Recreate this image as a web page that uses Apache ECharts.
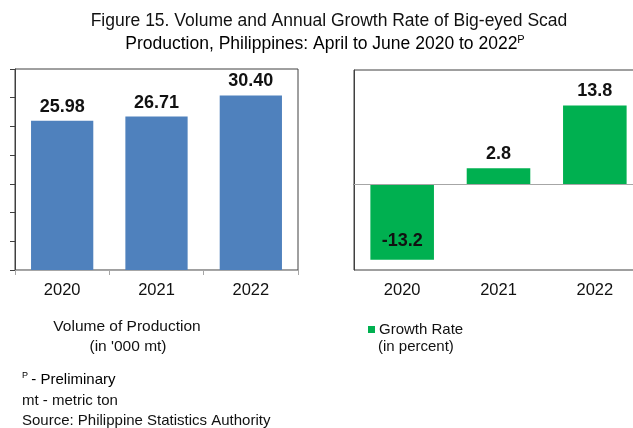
<!DOCTYPE html>
<html>
<head>
<meta charset="utf-8">
<script src="https://cdn.jsdelivr.net/npm/echarts@6/dist/echarts.min.js"></script>
<style>
html,body{margin:0;padding:0;background:#fff;overflow:hidden;width:633px;height:428px;}
#c{width:660px;height:428px;}
</style>
</head>
<body>
<div id="c"></div>
<script>
var years = ['2020', '2021', '2022'];
var volume = [25.98, 26.71, 30.40];
var growth = [-13.2, 2.8, 13.8];
var volumeLabels = ['25.98', '26.71', '30.40'];
var growthLabels = ['-13.2', '2.8', '13.8'];

var FONT = '"Liberation Sans", Arial, sans-serif';
var TXT = '#111';

var chart = echarts.init(document.getElementById('c'), null, {renderer: 'canvas'});

var growthData = growth.map(function (v, i) {
  if (v < 0) {
    return {value: v, label: {position: 'insideBottom', distance: 10}};
  }
  return v;
});

var option = {
  animation: false,
  textStyle: {fontFamily: FONT},
  grid: [
    {left: 15, top: 69, width: 283, height: 201, show: true, borderColor: '#404040', borderWidth: 1, containLabel: false},
    {left: 354, top: 70, width: 289, height: 200, show: true, borderColor: '#404040', borderWidth: 1, containLabel: false}
  ],
  xAxis: [
    {type: 'category', gridIndex: 0, data: years,
      axisLine: {show: true, lineStyle: {color: '#a6a6a6'}},
      axisTick: {show: true, length: 5, alignWithLabel: false, lineStyle: {color: '#a6a6a6'}},
      axisLabel: {fontSize: 16.5, color: TXT, margin: 12, fontFamily: FONT}},
    {type: 'category', gridIndex: 1, data: years,
      axisLine: {show: true, lineStyle: {color: '#404040'}},
      axisTick: {show: false},
      axisLabel: {fontSize: 16.5, color: TXT, margin: 12, fontFamily: FONT}}
  ],
  yAxis: [
    {type: 'value', gridIndex: 0, min: 0, max: 35, interval: 5,
      axisLine: {show: true, lineStyle: {color: '#404040'}},
      axisTick: {show: true, inside: false, length: 5, lineStyle: {color: '#404040'}},
      axisLabel: {show: false}, splitLine: {show: false}},
    {type: 'value', gridIndex: 1, min: -15, max: 20, interval: 5,
      axisLine: {show: true, lineStyle: {color: '#404040'}},
      axisTick: {show: false},
      axisLabel: {show: false}, splitLine: {show: false}}
  ],
  legend: {
    data: ['Growth Rate'], left: 363, top: 317, icon: 'rect', itemWidth: 7, itemHeight: 7, itemGap: 4,
    textStyle: {fontSize: 15, color: TXT, fontFamily: FONT, padding: [0, 0, 0, -1]}
  },
  series: [
    {name: 'Volume', type: 'bar', xAxisIndex: 0, yAxisIndex: 0, data: volume, barWidth: '66%',
      itemStyle: {color: '#4F81BD'},
      label: {show: true, position: 'top', distance: 5, fontSize: 18, fontWeight: 'bold', color: TXT, fontFamily: FONT,
        formatter: function (p) { return volumeLabels[p.dataIndex]; }}},
    {name: 'Growth Rate', type: 'bar', xAxisIndex: 1, yAxisIndex: 1, data: growthData, barWidth: '66%',
      itemStyle: {color: '#00B050'},
      label: {show: true, position: 'top', distance: 5, fontSize: 18, fontWeight: 'bold', color: TXT, fontFamily: FONT,
        formatter: function (p) { return growthLabels[p.dataIndex]; }},
      markLine: {silent: true, symbol: 'none', label: {show: false},
        lineStyle: {color: '#a6a6a6', type: 'solid', width: 1},
        data: [{yAxis: 0}]}}
  ],
  graphic: [
    {type: 'text', x: 329, y: 21, style: {text: 'Figure 15. Volume and Annual Growth Rate of Big-eyed Scad', font: '17.5px ' + FONT, fill: TXT, align: 'center', verticalAlign: 'middle'}},
    {type: 'text', x: 325, y: 44, style: {
      text: '{a|Production, Philippines: April to June 2020 to 2022}{s|P}',
      align: 'center', verticalAlign: 'middle',
      rich: {a: {fontSize: 17.5, fontFamily: FONT, color: TXT}, s: {fontSize: 11, fontFamily: FONT, color: TXT, padding: [0, 0, 9, 0]}}
    }},
    {type: 'text', x: 127, y: 327, style: {text: 'Volume of Production', font: '15.5px ' + FONT, fill: TXT, align: 'center', verticalAlign: 'middle'}},
    {type: 'text', x: 128, y: 347, style: {text: "(in '000 mt)", font: '15.5px ' + FONT, fill: TXT, align: 'center', verticalAlign: 'middle'}},
    {type: 'text', x: 378, y: 347, style: {text: '(in percent)', font: '15px ' + FONT, fill: TXT, align: 'left', verticalAlign: 'middle'}},
    {type: 'text', x: 22, y: 380, style: {
      text: '{s|P} {a|- Preliminary}', verticalAlign: 'middle', align: 'left',
      rich: {a: {fontSize: 15, fontFamily: FONT, color: TXT}, s: {fontSize: 9, fontFamily: FONT, color: TXT, padding: [0, 0, 8, 0]}}
    }},
    {type: 'text', x: 22, y: 401, style: {text: 'mt - metric ton', font: '15px ' + FONT, fill: TXT, align: 'left', verticalAlign: 'middle'}},
    {type: 'text', x: 22, y: 421, style: {text: 'Source: Philippine Statistics Authority', font: '15px ' + FONT, fill: TXT, align: 'left', verticalAlign: 'middle'}}
  ]
};
chart.setOption(option);
</script>
</body>
</html>
